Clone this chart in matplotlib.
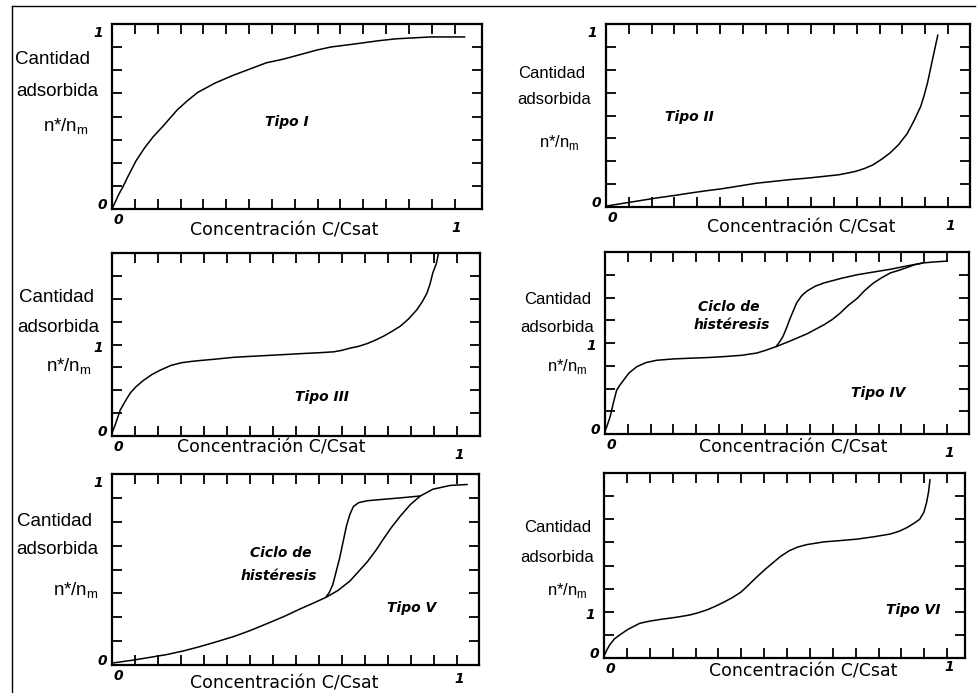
import numpy as np
import matplotlib
matplotlib.use("Agg")
import matplotlib.pyplot as plt

# ---------------- data ----------------
t1_x = [0.0, 0.01, 0.02, 0.032, 0.045, 0.07, 0.095, 0.12, 0.15, 0.19, 0.22, 0.25, 0.30, 0.35, 0.40,
        0.45, 0.50, 0.54, 0.60, 0.64, 0.70, 0.74, 0.78, 0.83, 0.88, 0.93, 1.03]
t1_y = [0.0, 0.04, 0.08, 0.12, 0.17, 0.26, 0.33, 0.39, 0.45, 0.535, 0.585, 0.63, 0.68, 0.72, 0.755,
        0.79, 0.81, 0.83, 0.86, 0.876, 0.89, 0.90, 0.91, 0.92, 0.925, 0.93, 0.93]

t2_x = [0.0, 0.05, 0.10, 0.15, 0.20, 0.245, 0.29, 0.34, 0.39, 0.44, 0.49, 0.54, 0.59, 0.635, 0.68,
        0.705, 0.73, 0.755, 0.78, 0.805, 0.83, 0.855, 0.88, 0.90, 0.92, 0.93, 0.94, 0.948, 0.956,
        0.963, 0.97]
t2_y = [0.005, 0.02, 0.035, 0.05, 0.063, 0.076, 0.088, 0.10, 0.115, 0.13, 0.14, 0.15, 0.158, 0.167,
        0.176, 0.185, 0.195, 0.21, 0.23, 0.26, 0.295, 0.34, 0.40, 0.47, 0.55, 0.61, 0.68, 0.75, 0.82,
        0.88, 0.94]

t3_x = [0.0, 0.01, 0.024, 0.04, 0.053, 0.07, 0.092, 0.115, 0.14, 0.17, 0.20, 0.23, 0.256, 0.30, 0.353,
        0.40, 0.45, 0.50, 0.546, 0.60, 0.643, 0.665, 0.69, 0.715, 0.74, 0.765, 0.787, 0.81, 0.836,
        0.86, 0.884, 0.90, 0.913, 0.922, 0.93, 0.94, 0.947]
t3_y = [0.03, 0.13, 0.285, 0.39, 0.47, 0.54, 0.61, 0.67, 0.72, 0.77, 0.80, 0.815, 0.825, 0.84, 0.86,
        0.87, 0.88, 0.89, 0.90, 0.91, 0.92, 0.935, 0.96, 0.98, 1.01, 1.05, 1.09, 1.14, 1.20, 1.28,
        1.38, 1.47, 1.56, 1.66, 1.78, 1.88, 2.0]

t4_ads_x = [0.0, 0.007, 0.015, 0.025, 0.034, 0.044, 0.054, 0.07, 0.093, 0.12, 0.151, 0.20, 0.249,
            0.30, 0.346, 0.40, 0.444, 0.47, 0.50, 0.52, 0.54, 0.565, 0.59, 0.615, 0.64, 0.665, 0.688,
            0.71, 0.737, 0.76, 0.785, 0.81, 0.834, 0.86, 0.883, 0.905, 0.93, 0.96, 1.0]
t4_ads_y = [0.03, 0.10, 0.19, 0.35, 0.48, 0.54, 0.59, 0.67, 0.74, 0.785, 0.81, 0.825, 0.833, 0.84,
            0.85, 0.865, 0.89, 0.92, 0.96, 0.99, 1.02, 1.06, 1.10, 1.15, 1.20, 1.26, 1.33, 1.41, 1.49,
            1.58, 1.66, 1.72, 1.77, 1.80, 1.83, 1.86, 1.88, 1.89, 1.90]
t4_des_x = [0.50, 0.51, 0.52, 0.53, 0.54, 0.55, 0.56, 0.575, 0.59, 0.615, 0.64, 0.69, 0.737, 0.785,
            0.834, 0.88, 0.93]
t4_des_y = [0.96, 1.01, 1.07, 1.16, 1.26, 1.35, 1.44, 1.52, 1.57, 1.625, 1.66, 1.71, 1.75, 1.78,
            1.81, 1.845, 1.88]

t5_ads_x = [0.0, 0.063, 0.11, 0.16, 0.21, 0.256, 0.30, 0.353, 0.40, 0.45, 0.50, 0.546, 0.585, 0.62,
            0.655, 0.69, 0.715, 0.74, 0.765, 0.787, 0.81, 0.836, 0.865, 0.894, 0.93, 0.98, 1.03]
t5_ads_y = [0.01, 0.026, 0.04, 0.055, 0.075, 0.097, 0.12, 0.149, 0.18, 0.217, 0.255, 0.294, 0.325,
            0.354, 0.39, 0.44, 0.49, 0.54, 0.60, 0.66, 0.72, 0.78, 0.84, 0.885, 0.92, 0.94, 0.945]
t5_des_x = [0.62, 0.63, 0.64, 0.65, 0.66, 0.67, 0.68, 0.69, 0.70, 0.715, 0.74, 0.79, 0.836, 0.894]
t5_des_y = [0.354, 0.38, 0.42, 0.49, 0.56, 0.645, 0.73, 0.79, 0.83, 0.85, 0.86, 0.868, 0.875, 0.885]

t6_x = [0.0, 0.008, 0.017, 0.03, 0.046, 0.07, 0.104, 0.135, 0.17, 0.21, 0.25, 0.275, 0.30, 0.325,
        0.35, 0.375, 0.40, 0.42, 0.445, 0.47, 0.494, 0.515, 0.54, 0.565, 0.59, 0.64, 0.69, 0.737,
        0.785, 0.834, 0.86, 0.883, 0.905, 0.92, 0.932, 0.94, 0.946, 0.95]
t6_y = [0.04, 0.17, 0.29, 0.41, 0.50, 0.62, 0.75, 0.80, 0.84, 0.88, 0.93, 0.98, 1.04, 1.12, 1.21,
        1.31, 1.43, 1.57, 1.75, 1.92, 2.07, 2.20, 2.32, 2.40, 2.45, 2.51, 2.54, 2.57, 2.62, 2.68,
        2.74, 2.82, 2.92, 3.0, 3.15, 3.36, 3.60, 3.86]

tipo_labels = ["Tipo I", "Tipo II", "Tipo III", "Tipo IV", "Tipo V", "Tipo VI"]
y_max = [1, 1, 2, 2, 1, 4]
xlabel_text = "Concentración C/Csat"
ylabel_lines = ["Cantidad", "adsorbida"]
hyst_lines = ["Ciclo de", "histéresis"]

# ---------------- layout ----------------
W, H = 980, 693
fig = plt.figure(figsize=(W / 100, H / 100), dpi=100)
fig.patch.set_facecolor("white")

def fx(x):
    return x / W

def fy(y):
    return 1 - y / H

# axes boxes in pixels: left, top, right, bottom ; xlim right
boxes = [
    (112, 24, 482, 209, 1.08),
    (606, 24, 970, 207, 1.064),
    (112, 253, 480, 436, 1.067),
    (605, 252, 969, 434, 1.064),
    (112, 474, 479, 665, 1.064),
    (604, 473, 965, 658, 1.052),
]
# ylabel text centres (pixels): Cantidad, adsorbida, n*/n_m
ylab_pos = [
    [(52, 60), (57, 92), (66, 127)],
    [(552, 73), (554, 99), (559, 142)],
    [(57, 298), (58, 327), (69, 367)],
    [(558, 300), (557, 327), (567, 367)],
    [(54, 521), (57, 549), (76, 591)],
    [(558, 528), (557, 557), (567, 590)],
]
ylab_size = [13.5, 12, 13.5, 12, 13.5, 12]
xlab_pos = [(284, 231), (801, 228), (271, 448), (793, 447), (284, 683), (803, 671)]
x1_off = [-19, -19, -19, -19, -14, -9]
tipo_pos = [(0.51, 0.47), (0.245, 0.49), (0.61, 0.43), (0.80, 0.45), (0.87, 0.30), (0.90, 1.04)]

digit_font = dict(family="DejaVu Sans", weight="bold", style="italic", size=10)
tipo_font = dict(family="DejaVu Sans", weight="bold", style="italic", size=10)

curves = [
    [(t1_x, t1_y)],
    [(t2_x, t2_y)],
    [(t3_x, t3_y)],
    [(t4_ads_x, t4_ads_y), (t4_des_x, t4_des_y)],
    [(t5_ads_x, t5_ads_y), (t5_des_x, t5_des_y)],
    [(t6_x, t6_y)],
]

for i, (l, t, r, b, xr) in enumerate(boxes):
    ax = fig.add_axes([fx(l), fy(b), (r - l) / W, (b - t) / H])
    ym = y_max[i]
    ax.set_xlim(0, xr)
    ax.set_ylim(0, ym)
    ax.set_xticks(np.arange(16) / 15)
    ax.set_yticks(np.linspace(0, ym, 9))
    ax.tick_params(direction="in", length=7, width=1.3, top=True, right=True,
                   labelbottom=False, labelleft=False, color="black")
    for s in ax.spines.values():
        s.set_linewidth(1.6)
        s.set_color("black")
    for cx, cy in curves[i]:
        ax.plot(cx, cy, color="black", lw=1.1, solid_joinstyle="round", solid_capstyle="round")

    # tick-like labels
    ax.annotate("0", xy=(0, 0), xycoords="data", xytext=(-5, 4), textcoords="offset pixels",
                ha="right", va="center", **digit_font)
    ax.annotate("0", xy=(0, 0), xycoords="data", xytext=(6, -11), textcoords="offset pixels",
                ha="center", va="center", **digit_font)
    ax.annotate("1", xy=(1, 0), xycoords="data", xytext=(2, x1_off[i]), textcoords="offset pixels",
                ha="center", va="center", **digit_font)
    yoff = -9 if ym == 1 else -3
    ax.annotate("1", xy=(0, 1), xycoords="data", xytext=(-9, yoff), textcoords="offset pixels",
                ha="right", va="center", **digit_font)

    tx, ty = tipo_pos[i]
    ax.text(tx, ty, tipo_labels[i], ha="center", va="center", **tipo_font)

    # axis titles
    (c1, c2, c3) = ylab_pos[i]
    fs = ylab_size[i]
    fig.text(fx(c1[0]), fy(c1[1]), ylabel_lines[0], ha="center", va="center",
             family="Liberation Sans", size=fs)
    fig.text(fx(c2[0]), fy(c2[1]), ylabel_lines[1], ha="center", va="center",
             family="Liberation Sans", size=fs)
    fig.text(fx(c3[0]), fy(c3[1]), r"n*/n$_{\mathregular{m}}$", ha="center", va="center",
             family="Liberation Sans", size=fs)
    xp = xlab_pos[i]
    fig.text(fx(xp[0]), fy(xp[1]), xlabel_text, ha="center", va="center",
             family="DejaVu Sans", size=12.5)

# hysteresis annotations
ax4 = fig.axes[3]
ax4.text(0.363, 1.40, hyst_lines[0], ha="center", va="center", **tipo_font)
ax4.text(0.37, 1.20, hyst_lines[1], ha="center", va="center", **tipo_font)
ax5 = fig.axes[4]
ax5.text(0.488, 0.585, hyst_lines[0], ha="center", va="center", **tipo_font)
ax5.text(0.483, 0.465, hyst_lines[1], ha="center", va="center", **tipo_font)

# outer frame lines
fig.add_artist(plt.Line2D([fx(12), fx(975)], [fy(6), fy(6)], color="black", lw=1.0))
fig.add_artist(plt.Line2D([fx(12), fx(12)], [fy(6), fy(693)], color="black", lw=1.0))

fig.savefig("out.png", dpi=100, facecolor="white")
